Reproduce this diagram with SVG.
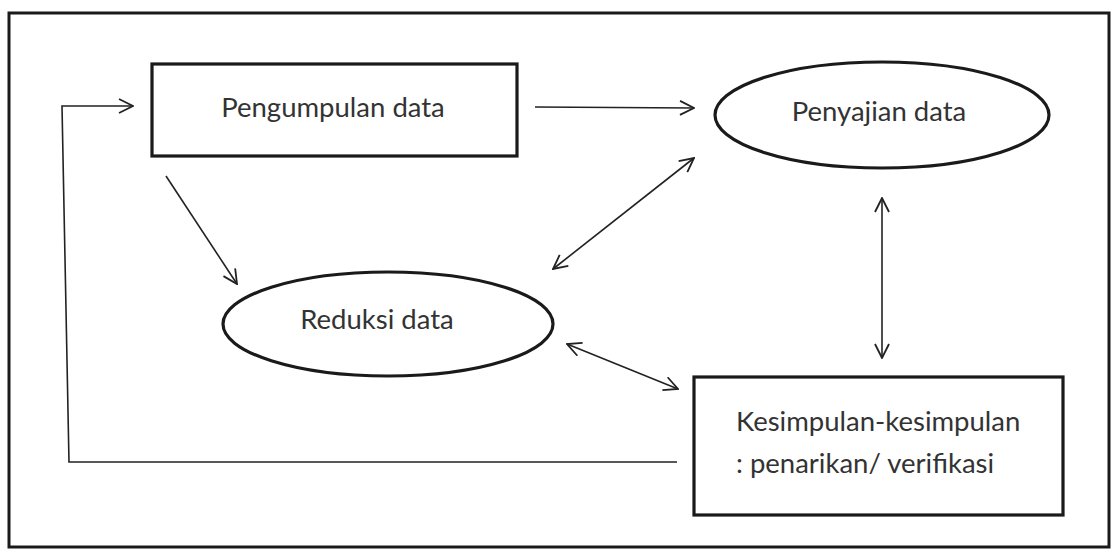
<svg xmlns="http://www.w3.org/2000/svg" width="1114" height="550" viewBox="0 0 1114 550">
<style>
.node{fill:#fff;stroke:#1a1a1a;stroke-width:3.2}
.lbl{font-family:Lato,"Open Sans","Liberation Sans",sans-serif;font-size:27.5px;fill:#333;text-anchor:middle}
.con{fill:none;stroke:#222;stroke-width:1.6}
</style>
<defs>
<marker id="ah" viewBox="0 0 16 16" refX="15" refY="8" markerWidth="16" markerHeight="16" markerUnits="userSpaceOnUse" orient="auto-start-reverse">
<path d="M1,1 L15,8 L1,15" fill="none" stroke="#222" stroke-width="1.8"/>
</marker>
</defs>
<rect id="frame" x="9" y="13" width="1100" height="534" fill="#fff" stroke="#1a1a1a" stroke-width="3"/>
<g id="connectors">
<path class="con" d="M677,462 L69,462 L62,106 L133,106" marker-end="url(#ah)"/>
<line class="con" x1="535" y1="107" x2="694" y2="108" marker-end="url(#ah)"/>
<line class="con" x1="166" y1="176" x2="237" y2="284" marker-end="url(#ah)"/>
<line class="con" x1="553" y1="269" x2="694" y2="158" marker-start="url(#ah)" marker-end="url(#ah)"/>
<line class="con" x1="882" y1="198" x2="882" y2="358" marker-start="url(#ah)" marker-end="url(#ah)"/>
<line class="con" x1="567" y1="344" x2="678" y2="389" marker-start="url(#ah)" marker-end="url(#ah)"/>
</g>
<g id="pengumpulan">
<rect class="node" x="152" y="64" width="365" height="92"/>
<text class="lbl" x="333" y="117">Pengumpulan data</text>
</g>
<g id="penyajian">
<ellipse class="node" cx="882" cy="115" rx="167" ry="53"/>
<text class="lbl" x="879" y="121">Penyajian data</text>
</g>
<g id="reduksi">
<ellipse class="node" cx="388" cy="324" rx="165" ry="52"/>
<text class="lbl" x="377" y="329">Reduksi data</text>
</g>
<g id="kesimpulan">
<rect class="node" x="694" y="377" width="369" height="138"/>
<text class="lbl" x="736" y="431" style="text-anchor:start">Kesimpulan-kesimpulan</text>
<text class="lbl" x="736" y="473" style="text-anchor:start">: penarikan/ verifikasi</text>
</g>
</svg>
